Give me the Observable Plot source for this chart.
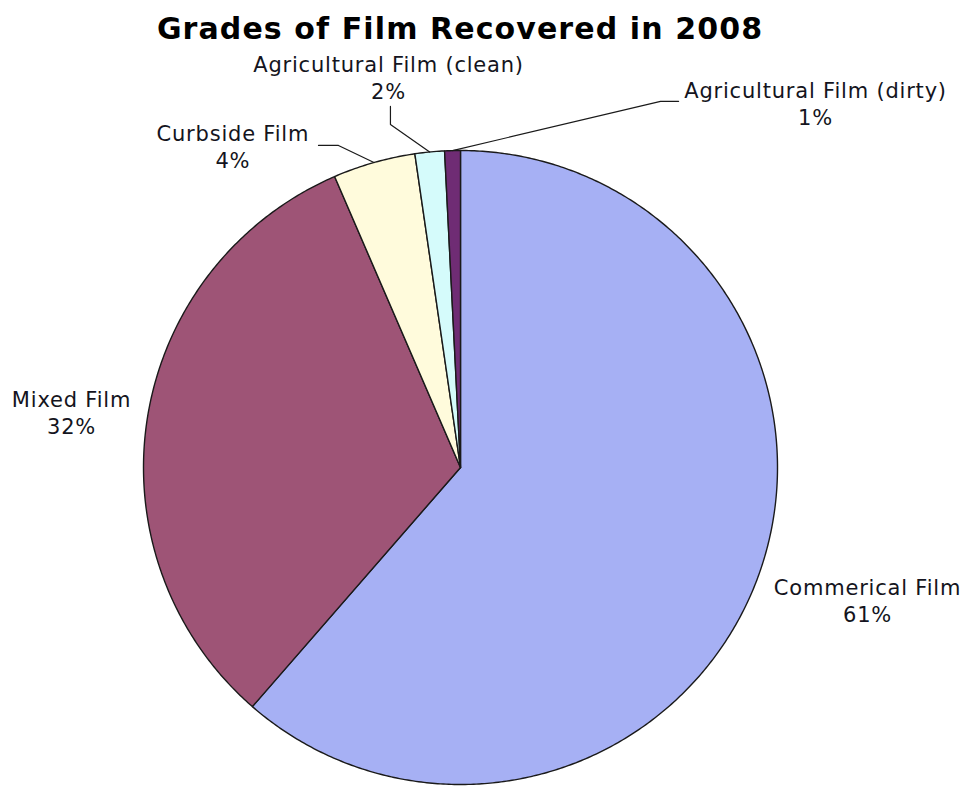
<!DOCTYPE html>
<html>
<head>
<meta charset="utf-8">
<script src="https://cdn.jsdelivr.net/npm/d3@7"></script>
<script src="https://cdn.jsdelivr.net/npm/@observablehq/plot@0.6"></script>
<style>
  html, body { margin: 0; padding: 0; background: #fff; }
  #title { width: 920px; height: 56px; line-height: 58px; text-align: center;
           font-family: "DejaVu Sans", Verdana, sans-serif; font-weight: bold; font-size: 30px;
           letter-spacing: 1.1px; color: #000; }
</style>
</head>
<body>
<div id="title">Grades of Film Recovered in 2008</div>
<div id="chart"></div>
<script>
// ---- data ----
const categories = ["Commerical Film", "Mixed Film", "Curbside Film", "Agricultural Film (clean)", "Agricultural Film (dirty)"];
const shares = [61.4, 32.1, 4.2, 1.5, 0.8];
const colors = ["#a6b0f4", "#9e5476", "#fffbdc", "#d5fbfb", "#6f2c74"];

// ---- layout (label placement in pie-radius units, y up) ----
const labelAt = [[1.284, -0.416], [-1.227, 0.175], [-0.718, 1.016], [-0.227, 1.233], [1.120, 1.150]];
const leaderVia = [null, null, [[-0.448, 1.016], [-0.385, 1.016]], [[-0.221, 1.139], [-0.221, 1.082]], [[0.688, 1.155], [0.631, 1.155]]];

const rows = categories.map((c, i) => ({category: c, share: shares[i], i}));
const arcs = d3.pie().sort(null).value(d => d.share)(rows);

// slice polygons
const slicePts = [];
for (const a of arcs) {
  const cat = a.data.category;
  slicePts.push({category: cat, x: 0, y: 0});
  const n = Math.max(2, Math.ceil((a.endAngle - a.startAngle) / (Math.PI / 360)));
  for (let k = 0; k <= n; k++) {
    const t = a.startAngle + (a.endAngle - a.startAngle) * k / n;
    slicePts.push({category: cat, x: Math.sin(t), y: Math.cos(t)});
  }
}

// labels
const labels = arcs.map((a, i) => ({
  category: a.data.category,
  text: a.data.category + "\n" + Math.round(a.data.share) + "%",
  x: labelAt[i][0], y: labelAt[i][1]
}));

// leader lines
const leaderPts = [];
arcs.forEach((a, i) => {
  if (!leaderVia[i]) return;
  const mid = (a.startAngle + a.endAngle) / 2;
  for (const p of leaderVia[i]) leaderPts.push({category: a.data.category, x: p[0], y: p[1]});
  leaderPts.push({category: a.data.category, x: Math.sin(mid), y: Math.cos(mid)});
});

const chart = Plot.plot({
  width: 967,
  height: 730,
  marginLeft: 143,
  marginRight: 190,
  marginTop: 94,
  marginBottom: 2,
  x: {domain: [-1, 1], axis: null},
  y: {domain: [-1, 1], axis: null},
  color: {domain: categories, range: colors},
  style: {fontFamily: "'DejaVu Sans', Verdana, sans-serif", background: "#fff", overflow: "visible"},
  marks: [
    Plot.line(slicePts, {x: "x", y: "y", z: "category", fill: "category", stroke: "#1a1a1a", strokeWidth: 1.4, curve: "linear-closed", strokeLinejoin: "round"}),
    Plot.line(leaderPts, {x: "x", y: "y", z: "category", stroke: "#1a1a1a", strokeWidth: 1.2}),
    Plot.text(labels, {x: "x", y: "y", text: "text", fontSize: 21, lineHeight: 1.286, textAnchor: "middle", lineAnchor: "middle", fill: "#141420", style: "letter-spacing: 0.8px"})
  ]
});
chart.querySelectorAll("text").forEach(t => t.setAttribute("letter-spacing", "0.8px"));
document.getElementById("chart").appendChild(chart);
</script>
</body>
</html>
